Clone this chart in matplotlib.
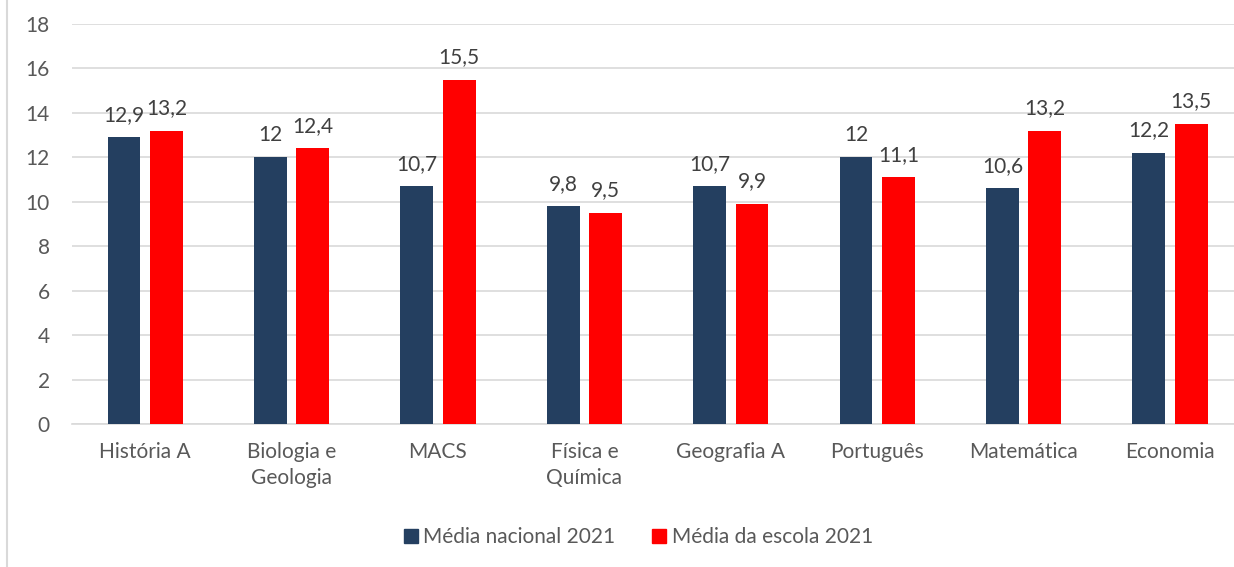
import numpy as np
import matplotlib.pyplot as plt
from matplotlib.lines import Line2D

plt.rcParams['font.family'] = ['Lato', 'DejaVu Sans']

subjects = ['História A', 'Biologia e\nGeologia', 'MACS', 'Física e\nQuímica',
            'Geografia A', 'Português', 'Matemática', 'Economia']
nacional = [12.9, 12.0, 10.7, 9.8, 10.7, 12.0, 10.6, 12.2]
escola = [13.2, 12.4, 15.5, 9.5, 9.9, 11.1, 13.2, 13.5]
series_names = ['Média nacional 2021', 'Média da escola 2021']
colors = ['#243F60', '#FF0000']
txt = '#595959'
fs = 15

fig = plt.figure(figsize=(12.34, 5.67), dpi=100)
ax = fig.add_axes([72/1234, 1 - 424/567, (1234 - 72)/1234, 400/567])

x = np.arange(len(subjects))
w = 0.225
off = 0.145
for vals, dx, c in [(nacional, -off, colors[0]), (escola, off, colors[1])]:
    ax.bar(x + dx, vals, width=w, color=c, zorder=3)
    for xi, v in zip(x + dx, vals):
        lab = f'{v:g}'.replace('.', ',')
        ax.annotate(lab, (xi, v), xytext=(0, 9), textcoords='offset points',
                    ha='center', va='bottom', fontsize=fs, color='#404040')

ax.set_xlim(-0.5, -0.5 + 1162/146.4)
ax.set_ylim(0, 18)
ax.set_yticks(range(0, 19, 2))
ax.yaxis.grid(True, color='#D9D9D9', linewidth=1.2, zorder=0)
ax.set_xticks(x)
ax.set_xticklabels(subjects, fontsize=fs, color=txt, linespacing=1.4)
ax.tick_params(axis='y', labelsize=fs, colors=txt, length=0, pad=16)
ax.tick_params(axis='x', length=0, pad=13)
for s in ['top', 'right', 'left']:
    ax.spines[s].set_visible(False)
ax.spines['bottom'].set_color('#D9D9D9')
ax.spines['bottom'].set_linewidth(1.2)

# left border of the chart area
fig.add_artist(Line2D([7/1234, 7/1234], [0, 1], color='#D9D9D9', linewidth=1.5))

handles = [Line2D([], [], marker='s', linestyle='', markersize=10, color=c) for c in colors]
fig.legend(handles, series_names, loc='center', bbox_to_anchor=(0.515, 1 - 537/567),
           ncol=2, frameon=False, fontsize=fs, labelcolor=txt, handletextpad=0.0,
           columnspacing=1.5, handlelength=1.2)

fig.savefig('out.png', dpi=100)
